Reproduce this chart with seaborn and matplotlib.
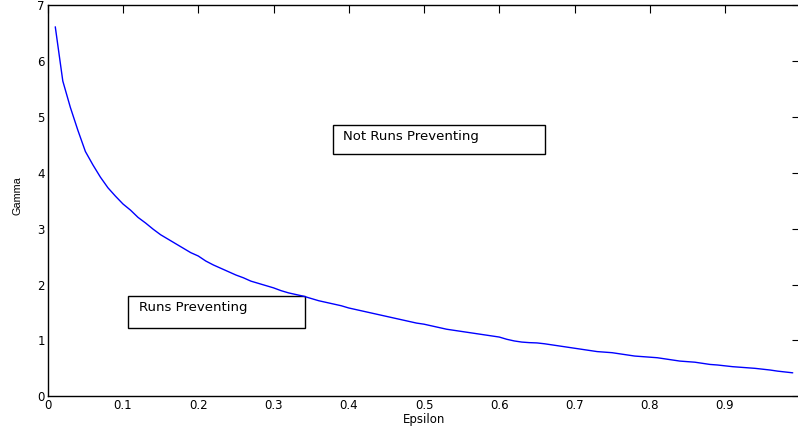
import matplotlib
matplotlib.use("Agg")
import matplotlib.pyplot as plt
import matplotlib.patches as mpatches
import numpy as np
import pandas as pd
import seaborn as sns

epsilon = [round(0.01 * i, 2) for i in range(1, 100)]
gamma = [
    6.61, 5.64, 5.17, 4.76, 4.38, 4.14, 3.92, 3.73, 3.58, 3.44,
    3.33, 3.20, 3.10, 2.99, 2.89, 2.81, 2.73, 2.65, 2.57, 2.51,
    2.42, 2.35, 2.29, 2.23, 2.17, 2.12, 2.06, 2.02, 1.98, 1.94,
    1.89, 1.85, 1.82, 1.79, 1.75, 1.71, 1.68, 1.65, 1.62, 1.58,
    1.55, 1.52, 1.49, 1.46, 1.43, 1.40, 1.37, 1.34, 1.31, 1.29,
    1.26, 1.23, 1.20, 1.18, 1.16, 1.14, 1.12, 1.10, 1.08, 1.06,
    1.02, 0.99, 0.97, 0.96, 0.955, 0.94, 0.92, 0.90, 0.88, 0.86,
    0.84, 0.82, 0.80, 0.79, 0.78, 0.76, 0.74, 0.72, 0.71, 0.70,
    0.69, 0.67, 0.65, 0.63, 0.62, 0.61, 0.59, 0.57, 0.56, 0.545,
    0.53, 0.52, 0.51, 0.50, 0.485, 0.47, 0.45, 0.435, 0.42,
]
xticks = [0, 0.1, 0.2, 0.3, 0.4, 0.5, 0.6, 0.7, 0.8, 0.9]
xticklabels = ["0", "0.1", "0.2", "0.3", "0.4", "0.5", "0.6", "0.7", "0.8", "0.9"]
yticks = [0, 1, 2, 3, 4, 5, 6, 7]
region_labels = ["Not Runs Preventing", "Runs Preventing"]

sns.set_style("white")
plt.rcParams["font.family"] = ["DejaVu Sans"]
plt.rcParams["text.color"] = "black"
plt.rcParams["axes.labelcolor"] = "black"

df = pd.DataFrame({"Epsilon": epsilon, "Gamma": gamma})

fig = plt.figure(figsize=(7.98, 4.32), dpi=100)
W, H = 798, 432
ax = fig.add_axes([47.75 / W, (H - 396.3) / H, 752.5 / W, 391.3 / H])

sns.lineplot(data=df, x="Epsilon", y="Gamma", ax=ax, color="#0000ff", linewidth=1.0)

ax.set_xlim(0, 1)
ax.set_ylim(0, 7)
ax.set_xticks(xticks)
ax.set_xticklabels(xticklabels)
ax.set_yticks(yticks)
ax.tick_params(direction="in", length=5.5, width=0.8, top=True, right=True,
               labelsize=8.5, colors="black", pad=2)
for s in ax.spines.values():
    s.set_visible(True)
    s.set_color("black")
    s.set_linewidth(1.0)
ax.set_xlabel("Epsilon", fontsize=8.5, labelpad=1, color="black")
ax.set_ylabel("Gamma", fontsize=7.8, family=["Liberation Sans", "DejaVu Sans"], color="black")
ax.yaxis.set_label_coords(-0.033, 0.514)

# text boxes
boxes = [
    ((0.379, 4.34), 0.282, 0.52, (0.392, 4.64)),
    ((0.107, 1.22), 0.235, 0.57, (0.121, 1.585)),
]
for label, (xy, w, h, txy) in zip(region_labels, boxes):
    ax.add_patch(mpatches.Rectangle(xy, w, h, fill=True, facecolor="white",
                                    edgecolor="black", linewidth=1.0, zorder=1))
    ax.text(txy[0], txy[1], label, fontsize=9.5, va="center", ha="left",
            color="black", zorder=3)

fig.savefig("out.png", dpi=100)
